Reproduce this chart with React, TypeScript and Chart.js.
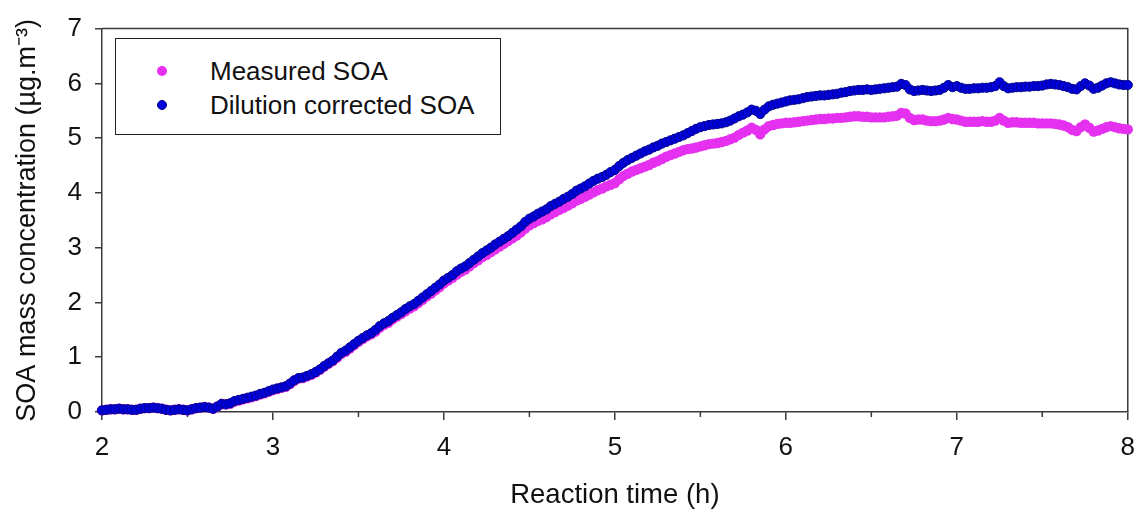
import React, { useEffect, useRef } from "react";
import { Chart, registerables } from "chart.js";

Chart.register(...registerables);

// Reaction time (h)
const times = [
  2.0, 2.025, 2.05, 2.075, 2.1, 2.125, 2.15, 2.175, 2.2, 2.225,
  2.25, 2.275, 2.3, 2.325, 2.35, 2.375, 2.4, 2.425, 2.45, 2.475,
  2.5, 2.525, 2.55, 2.575, 2.6, 2.625, 2.65, 2.675, 2.7, 2.725,
  2.75, 2.775, 2.8, 2.825, 2.85, 2.875, 2.9, 2.925, 2.95, 2.975,
  3.0, 3.025, 3.05, 3.075, 3.1, 3.125, 3.15, 3.175, 3.2, 3.225,
  3.25, 3.275, 3.3, 3.325, 3.35, 3.375, 3.4, 3.425, 3.45, 3.475,
  3.5, 3.525, 3.55, 3.575, 3.6, 3.625, 3.65, 3.675, 3.7, 3.725,
  3.75, 3.775, 3.8, 3.825, 3.85, 3.875, 3.9, 3.925, 3.95, 3.975,
  4.0, 4.025, 4.05, 4.075, 4.1, 4.125, 4.15, 4.175, 4.2, 4.225,
  4.25, 4.275, 4.3, 4.325, 4.35, 4.375, 4.4, 4.425, 4.45, 4.475,
  4.5, 4.525, 4.55, 4.575, 4.6, 4.625, 4.65, 4.675, 4.7, 4.725,
  4.75, 4.775, 4.8, 4.825, 4.85, 4.875, 4.9, 4.925, 4.95, 4.975,
  5.0, 5.025, 5.05, 5.075, 5.1, 5.125, 5.15, 5.175, 5.2, 5.225,
  5.25, 5.275, 5.3, 5.325, 5.35, 5.375, 5.4, 5.425, 5.45, 5.475,
  5.5, 5.525, 5.55, 5.575, 5.6, 5.625, 5.65, 5.675, 5.7, 5.725,
  5.75, 5.775, 5.8, 5.825, 5.85, 5.875, 5.9, 5.925, 5.95, 5.975,
  6.0, 6.025, 6.05, 6.075, 6.1, 6.125, 6.15, 6.175, 6.2, 6.225,
  6.25, 6.275, 6.3, 6.325, 6.35, 6.375, 6.4, 6.425, 6.45, 6.475,
  6.5, 6.525, 6.55, 6.575, 6.6, 6.625, 6.65, 6.675, 6.7, 6.725,
  6.75, 6.775, 6.8, 6.825, 6.85, 6.875, 6.9, 6.925, 6.95, 6.975,
  7.0, 7.025, 7.05, 7.075, 7.1, 7.125, 7.15, 7.175, 7.2, 7.225,
  7.25, 7.275, 7.3, 7.325, 7.35, 7.375, 7.4, 7.425, 7.45, 7.475,
  7.5, 7.525, 7.55, 7.575, 7.6, 7.625, 7.65, 7.675, 7.7, 7.725,
  7.75, 7.775, 7.8, 7.825, 7.85, 7.875, 7.9, 7.925, 7.95, 7.975,
  8.0,
];

// Measured SOA (µg m-3)
const measuredSOA = [
  0.03, 0.04, 0.05, 0.05, 0.06, 0.05, 0.05, 0.04, 0.04, 0.06,
  0.07, 0.07, 0.08, 0.07, 0.06, 0.04, 0.03, 0.04, 0.05, 0.04,
  0.03, 0.05, 0.07, 0.08, 0.09, 0.08, 0.06, 0.10, 0.14, 0.14,
  0.15, 0.19, 0.21, 0.23, 0.25, 0.27, 0.29, 0.32, 0.34, 0.37,
  0.40, 0.42, 0.44, 0.46, 0.51, 0.57, 0.61, 0.62, 0.65, 0.68,
  0.72, 0.77, 0.83, 0.88, 0.93, 0.99, 1.06, 1.10, 1.16, 1.22,
  1.28, 1.33, 1.38, 1.42, 1.47, 1.54, 1.59, 1.63, 1.69, 1.74,
  1.79, 1.84, 1.89, 1.93, 1.99, 2.05, 2.11, 2.16, 2.22, 2.28,
  2.35, 2.40, 2.45, 2.51, 2.56, 2.60, 2.66, 2.72, 2.77, 2.83,
  2.87, 2.92, 2.97, 3.02, 3.07, 3.12, 3.17, 3.22, 3.28, 3.35,
  3.41, 3.45, 3.49, 3.52, 3.56, 3.61, 3.65, 3.69, 3.73, 3.77,
  3.81, 3.86, 3.89, 3.93, 3.97, 4.01, 4.05, 4.08, 4.12, 4.15,
  4.18, 4.25, 4.31, 4.35, 4.39, 4.42, 4.45, 4.48, 4.51, 4.55,
  4.58, 4.62, 4.66, 4.69, 4.72, 4.75, 4.78, 4.80, 4.81, 4.83,
  4.85, 4.87, 4.89, 4.90, 4.91, 4.93, 4.95, 4.98, 5.01, 5.06,
  5.10, 5.14, 5.19, 5.15, 5.07, 5.16, 5.22, 5.24, 5.26, 5.27,
  5.28, 5.28, 5.29, 5.30, 5.31, 5.32, 5.33, 5.34, 5.35, 5.35,
  5.36, 5.36, 5.37, 5.37, 5.38, 5.39, 5.40, 5.40, 5.39, 5.39,
  5.38, 5.38, 5.38, 5.38, 5.39, 5.40, 5.41, 5.46, 5.45, 5.37,
  5.33, 5.34, 5.34, 5.32, 5.31, 5.31, 5.32, 5.34, 5.37, 5.35,
  5.34, 5.32, 5.30, 5.30, 5.30, 5.30, 5.31, 5.30, 5.30, 5.32,
  5.37, 5.32, 5.28, 5.29, 5.29, 5.28, 5.28, 5.28, 5.28, 5.27,
  5.27, 5.27, 5.27, 5.26, 5.25, 5.23, 5.20, 5.15, 5.13, 5.20,
  5.25, 5.19, 5.12, 5.14, 5.17, 5.20, 5.22, 5.20, 5.18, 5.17,
  5.16,
];

// Dilution corrected SOA (µg m-3)
const correctedSOA = [
  0.03, 0.04, 0.05, 0.05, 0.06, 0.05, 0.05, 0.04, 0.04, 0.06,
  0.07, 0.07, 0.08, 0.07, 0.06, 0.04, 0.03, 0.04, 0.05, 0.04,
  0.03, 0.05, 0.07, 0.08, 0.09, 0.08, 0.06, 0.10, 0.15, 0.14,
  0.16, 0.20, 0.22, 0.24, 0.26, 0.28, 0.30, 0.33, 0.35, 0.38,
  0.41, 0.43, 0.45, 0.47, 0.52, 0.58, 0.62, 0.63, 0.66, 0.69,
  0.73, 0.78, 0.84, 0.89, 0.94, 1.01, 1.08, 1.12, 1.18, 1.24,
  1.30, 1.35, 1.40, 1.44, 1.50, 1.57, 1.62, 1.66, 1.72, 1.77,
  1.82, 1.88, 1.93, 1.97, 2.03, 2.09, 2.15, 2.21, 2.27, 2.33,
  2.40, 2.45, 2.50, 2.57, 2.62, 2.66, 2.72, 2.78, 2.84, 2.90,
  2.95, 3.00, 3.06, 3.11, 3.16, 3.21, 3.27, 3.33, 3.39, 3.47,
  3.53, 3.57, 3.62, 3.66, 3.70, 3.76, 3.80, 3.84, 3.89, 3.93,
  3.98, 4.04, 4.08, 4.12, 4.17, 4.22, 4.26, 4.29, 4.33, 4.38,
  4.42, 4.49, 4.55, 4.60, 4.64, 4.68, 4.72, 4.76, 4.79, 4.83,
  4.86, 4.90, 4.93, 4.96, 4.99, 5.02, 5.05, 5.09, 5.13, 5.17,
  5.20, 5.22, 5.24, 5.25, 5.26, 5.27, 5.29, 5.32, 5.36, 5.40,
  5.43, 5.47, 5.52, 5.50, 5.44, 5.52, 5.58, 5.61, 5.63, 5.65,
  5.67, 5.69, 5.70, 5.71, 5.73, 5.75, 5.76, 5.77, 5.78, 5.78,
  5.79, 5.80, 5.81, 5.83, 5.84, 5.86, 5.87, 5.88, 5.88, 5.89,
  5.88, 5.89, 5.90, 5.91, 5.92, 5.93, 5.94, 5.99, 5.97, 5.89,
  5.86, 5.87, 5.88, 5.87, 5.86, 5.87, 5.88, 5.92, 5.97, 5.93,
  5.95, 5.92, 5.90, 5.90, 5.91, 5.91, 5.92, 5.92, 5.93, 5.95,
  6.02, 5.95, 5.91, 5.92, 5.93, 5.93, 5.94, 5.94, 5.95, 5.95,
  5.96, 5.98, 5.99, 5.98, 5.97, 5.95, 5.93, 5.90, 5.89, 5.95,
  6.00, 5.96, 5.90, 5.92, 5.96, 6.00, 6.02, 6.00, 5.98, 5.97,
  5.97,
];

const seriesLabels = ["Measured SOA", "Dilution corrected SOA"];
const seriesColors = ["#E530F0", "#0000DD"];
const seriesBorders = ["#E530F0", "#00008A"];
const xMinorTicks = [2.5, 3.5, 4.5, 5.5, 6.5, 7.5];

const FONT = "'Liberation Sans', Arial, Helvetica, sans-serif";
const AXIS_COLOR = "#3a3a3a";

const framePlugin = {
  id: "frameAndMinor",
  beforeDatasetsDraw(chart: any) {
    const { ctx, chartArea, scales } = chart;
    const { left, right, top, bottom } = chartArea;
    ctx.save();
    ctx.strokeStyle = AXIS_COLOR;
    ctx.lineWidth = 1.5;
    ctx.beginPath();
    ctx.moveTo(left, top);
    ctx.lineTo(right, top);
    ctx.lineTo(right, bottom);
    ctx.stroke();
    ctx.beginPath();
    xMinorTicks.forEach((v) => {
      const px = scales.x.getPixelForValue(v);
      ctx.moveTo(px, bottom);
      ctx.lineTo(px, bottom + 5);
    });
    ctx.stroke();
    ctx.restore();
  },
};

export default function App() {
  const canvasRef = useRef<HTMLCanvasElement | null>(null);

  useEffect(() => {
    document.body.style.margin = "0";
    const canvas = canvasRef.current;
    if (!canvas) return;
    const chart = new Chart(canvas, {
      type: "scatter",
      data: {
        datasets: [
          {
            label: seriesLabels[1],
            data: times.map((t, i) => ({ x: t, y: correctedSOA[i] })),
            backgroundColor: seriesColors[1],
            borderColor: seriesBorders[1],
            borderWidth: 1,
            pointRadius: 4.6,
            showLine: false,
            clip: false,
          },
          {
            label: seriesLabels[0],
            data: times.map((t, i) => ({ x: t, y: measuredSOA[i] })),
            backgroundColor: seriesColors[0],
            borderColor: seriesBorders[0],
            borderWidth: 0,
            pointRadius: 5.2,
            showLine: false,
            clip: false,
          },
        ],
      },
      options: {
        animation: false,
        responsive: false,
        devicePixelRatio: 1,
        layout: { padding: { top: 25, right: 18, left: 0, bottom: 0 } },
        plugins: {
          legend: { display: false },
          tooltip: { enabled: false },
        },
        scales: {
          x: {
            type: "linear",
            min: 2,
            max: 8,
            ticks: {
              stepSize: 1,
              color: "#111",
              font: { family: FONT, size: 26 },
              padding: 12,
              maxRotation: 0,
            },
            grid: {
              drawOnChartArea: false,
              drawTicks: true,
              tickLength: 8,
              color: AXIS_COLOR,
              lineWidth: 1.5,
            },
            border: { display: true, color: AXIS_COLOR, width: 1.5 },
            title: {
              display: true,
              text: "Reaction time (h)",
              color: "#111",
              font: { family: FONT, size: 27.5 },
              padding: { top: 0, bottom: 3 },
            },
            afterFit: (scale: any) => {
              scale.height = 103;
            },
          },
          y: {
            type: "linear",
            min: 0,
            max: 7,
            ticks: {
              stepSize: 1,
              color: "#111",
              font: { family: FONT, size: 26 },
              padding: 13,
            },
            grid: {
              drawOnChartArea: false,
              drawTicks: true,
              tickLength: 7,
              color: AXIS_COLOR,
              lineWidth: 1.5,
            },
            border: { display: true, color: AXIS_COLOR, width: 1.5 },
            title: {
              display: true,
              text: "SOA mass concentration (µg.m⁻³)",
              color: "#111",
              font: { family: FONT, size: 27 },
              padding: { top: 11, bottom: 0 },
            },
            afterFit: (scale: any) => {
              scale.width = 102;
            },
          },
        },
      },
      plugins: [framePlugin],
    });
    return () => chart.destroy();
  }, []);

  const legendItems = [0, 1];

  return (
    <div style={{ position: "absolute", left: 0, top: 0, width: 1147, height: 515, background: "#fff" }}>
      <canvas ref={canvasRef} width={1147} height={515} style={{ display: "block" }} />
      <div
        style={{
          position: "absolute",
          left: 115,
          top: 38,
          width: 386,
          height: 97,
          border: "1.5px solid #222",
          boxSizing: "border-box",
          background: "#fff",
          fontFamily: FONT,
          fontSize: 26,
          color: "#111",
        }}
      >
        {legendItems.map((i) => (
          <div
            key={i}
            style={{
              position: "absolute",
              left: 0,
              top: i === 0 ? 17 : 51,
              height: 30,
              display: "flex",
              alignItems: "center",
              whiteSpace: "nowrap",
            }}
          >
            <span
              style={{
                position: "absolute",
                left: 41,
                width: 10,
                height: 10,
                borderRadius: "50%",
                background: seriesColors[i],
                border: i === 1 ? `1px solid ${seriesBorders[i]}` : "none",
                boxSizing: "border-box",
              }}
            />
            <span style={{ position: "absolute", left: 94, lineHeight: "30px" }}>{seriesLabels[i]}</span>
          </div>
        ))}
      </div>
    </div>
  );
}
